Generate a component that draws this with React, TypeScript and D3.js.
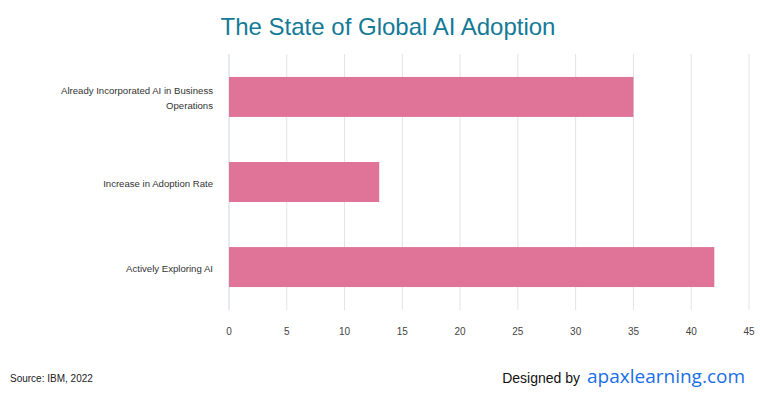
import { useEffect, useRef } from 'react';
import * as d3 from 'd3';

const CATEGORIES = [
  'Already Incorporated AI in Business Operations',
  'Increase in Adoption Rate',
  'Actively Exploring AI',
];
const VALUES = [35, 13, 42];
const X_TICKS = [0, 5, 10, 15, 20, 25, 30, 35, 40, 45];

const FONT = '"Liberation Sans", Arial, sans-serif';

export default function App() {
  const svgRef = useRef<SVGSVGElement>(null);

  useEffect(() => {
    document.body.style.margin = '0';
    if (!svgRef.current) return;

    const width = 760;
    const height = 400;
    const left = 229;
    const right = 749;
    const top = 54;
    const bottom = 310;

    const svg = d3.select(svgRef.current);
    svg.selectAll('*').remove();
    svg.attr('width', width).attr('height', height).attr('viewBox', `0 0 ${width} ${height}`);

    const x = d3.scaleLinear().domain([0, 45]).range([left, right]);
    const y = d3.scaleBand<string>().domain(CATEGORIES).range([top, bottom]).paddingInner(0.53).paddingOuter(0.27);

    // title
    svg.append('text')
      .attr('x', 388).attr('y', 35)
      .attr('text-anchor', 'middle')
      .attr('font-family', FONT)
      .attr('font-size', '24px')
      .attr('fill', '#147a96')
      .text('The State of Global AI Adoption');

    // vertical gridlines
    X_TICKS.forEach((t) => {
      svg.append('line')
        .attr('x1', x(t)).attr('x2', x(t))
        .attr('y1', top).attr('y2', bottom)
        .attr('stroke', t === 0 ? '#c9d6ea' : '#e3e3e3')
        .attr('stroke-width', 1);

      svg.append('text')
        .attr('x', x(t)).attr('y', 335)
        .attr('text-anchor', 'middle')
        .attr('font-family', FONT)
        .attr('font-size', '10px')
        .attr('fill', '#444')
        .text(t);
    });

    // bars
    CATEGORIES.forEach((c, i) => {
      svg.append('rect')
        .attr('x', x(0))
        .attr('y', y(c)!)
        .attr('width', x(VALUES[i]) - x(0))
        .attr('height', y.bandwidth())
        .attr('fill', '#e07498');
    });

    // category labels (wrapped)
    CATEGORIES.forEach((c) => {
      const cy = y(c)! + y.bandwidth() / 2;
      const words = c.split(' ');
      const lines: string[] = [];
      let cur = '';
      words.forEach((w) => {
        const next = cur ? `${cur} ${w}` : w;
        if (next.length > 36) {
          lines.push(cur);
          cur = w;
        } else {
          cur = next;
        }
      });
      lines.push(cur);
      const lh = 15;
      const t = svg.append('text')
        .attr('text-anchor', 'end')
        .attr('font-family', FONT)
        .attr('font-size', '9.6px')
        .attr('fill', '#333');
      lines.forEach((l, j) => {
        t.append('tspan')
          .attr('x', 213)
          .attr('y', cy + 4.5 + (j - (lines.length - 1) / 2) * lh)
          .text(l);
      });
    });

    // source
    svg.append('text')
      .attr('x', 10).attr('y', 382)
      .attr('font-family', FONT)
      .attr('font-size', '10px')
      .attr('fill', '#222')
      .text('Source: IBM, 2022');

    // credit
    svg.append('text')
      .attr('x', 580).attr('y', 383)
      .attr('text-anchor', 'end')
      .attr('font-family', FONT)
      .attr('font-size', '14px')
      .attr('fill', '#111')
      .text('Designed by');

    svg.append('text')
      .attr('x', 587).attr('y', 383)
      .attr('font-family', '"Open Sans", "DejaVu Sans", sans-serif')
      .attr('font-size', '19px')
      .attr('fill', '#1a6ee6')
      .text('apaxlearning.com');
  }, []);

  return <svg ref={svgRef} style={{ display: 'block' }} />;
}
